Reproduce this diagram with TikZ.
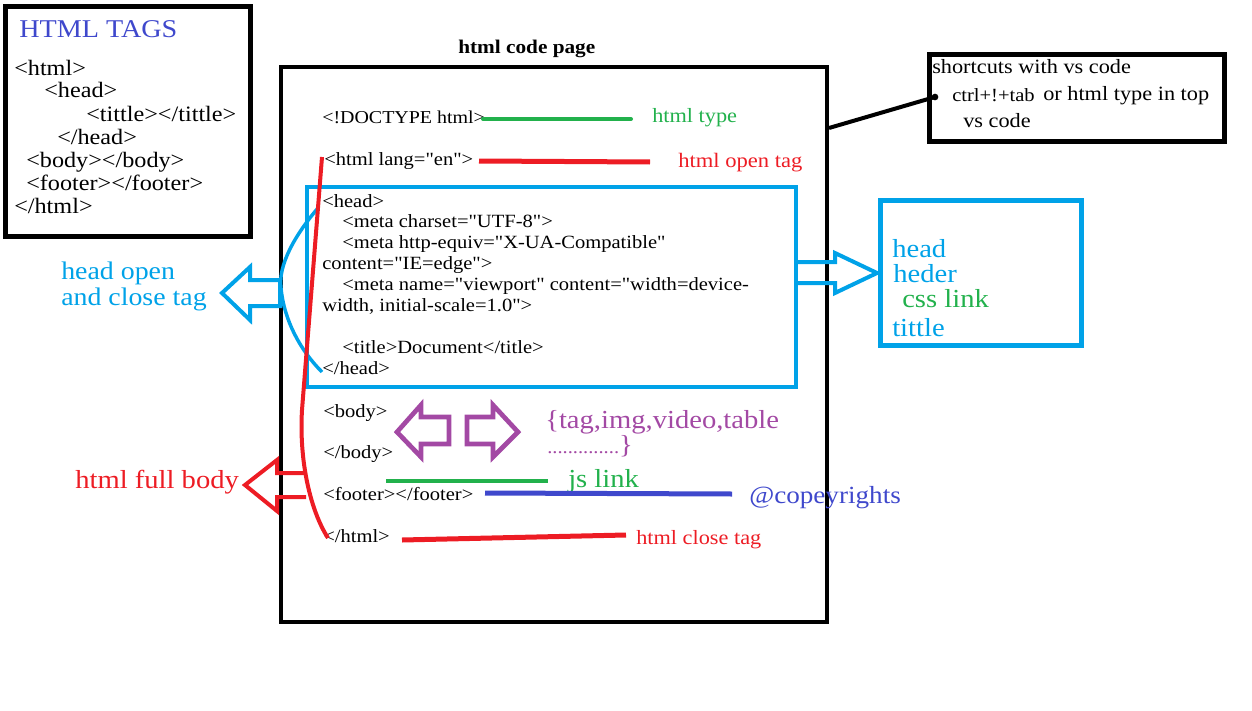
\documentclass[tikz,border=0pt]{standalone}
\usepackage{fontspec}
\setmainfont{Liberation Serif}[FakeStretch=1.1, Ligatures=TeXOff]
\usepackage{xcolor}
\definecolor{pred}{RGB}{237,28,36}
\definecolor{pgreen}{RGB}{34,177,76}
\definecolor{pblue}{RGB}{0,162,232}
\definecolor{pindigo}{RGB}{63,72,204}
\definecolor{ppurple}{RGB}{163,73,164}
\tikzset{
  txt/.style={anchor=base west, inner sep=0pt},
  code/.style={txt, font=\fontsize{14}{16}\selectfont},
  tagline/.style={txt, font=\fontsize{16.5}{18}\selectfont},
  smallnote/.style={txt, font=\fontsize{15.2}{17}\selectfont},
  note/.style={txt, font=\fontsize{19.5}{21}\selectfont},
}

\begin{document}
\begin{tikzpicture}[x=0.75pt,y=-0.75pt]
      \useasboundingbox (0,0) rectangle (1252,710);
      % tag list box
      \draw[line width=3.75pt] (5,6.5) rectangle (250,236);
      \node[note, pindigo, font=\fontsize{19.2}{21}\selectfont] (tagtitle) at (19,38) {HTML TAGS};
      \node[tagline] (t1) at (14,75) {<html>};
      \node[tagline] (t2) at (44,98) {<head>};
      \node[tagline] (t3) at (86,121) {<tittle></tittle>};
      \node[tagline] (t4) at (57,144) {</head>};
      \node[tagline] (t5) at (26,167) {<body></body>};
      \node[tagline] (t6) at (26,190) {<footer></footer>};
      \node[tagline] (t7) at (14,213) {</html>};
      % code page
      \node[txt, font=\bfseries\fontsize{14.5}{16}\selectfont] (pagetitle) at (458,54) {html code page};
      \draw[line width=3.4pt] (281,67) rectangle (827,622);
      \node[code, font=\fontsize{13.6}{16}\selectfont] (doctype) at (322,123) {<!DOCTYPE html>};
      \node[code] (htmlopen) at (324,165) {<html lang="en">};
      \node[code] (h1) at (322,207) {<head>};
      \node[code] (h2) at (342,227) {<meta charset="UTF-8">};
      \node[code] (h3) at (342,248) {<meta http-equiv="X-UA-Compatible"};
      \node[code] (h4) at (322,269) {content="IE=edge">};
      \node[code] (h5) at (342,290) {<meta name="viewport" content="width=device-};
      \node[code] (h6) at (322,311) {width, initial-scale=1.0">};
      \node[code] (h7) at (342,353) {<title>Document</title>};
      \node[code] (h8) at (322,374) {</head>};
      \node[code] (bodyopen) at (323,417) {<body>};
      \node[code] (bodyclose) at (323,458) {</body>};
      \node[code] (footer) at (323,500) {<footer></footer>};
      \node[code] (htmlclose) at (323,542) {</html>};
      % labels
      \node[smallnote, pgreen] (typelabel) at (652,122) {html type};
      \node[smallnote, pred, font=\fontsize{15.4}{17}\selectfont] (openlabel) at (678,167) {html open tag};
      \node[smallnote, pred] (closelabel) at (636,544) {html close tag};
      \node[note, pblue, font=\fontsize{19}{21}\selectfont] (headlabel) at (61,279) {head open};
      \node[note, pblue, font=\fontsize{19}{21}\selectfont] (headlabelb) at (61,305) {and close tag};
      \node[note, ppurple] (bodylabel) at (545,428) {\{tag,img,video,table};
      \node[note, ppurple] (bodylabelb) at (547,453) {{\fontsize{14}{16}\selectfont ..............}\}};
      \node[note, pgreen] (jslabel) at (568,487) {js link};
      \node[note, pindigo, font=\fontsize{18.5}{20}\selectfont] (copylabel) at (749,503) {@copeyrights};
      \node[note, pred] (fulllabel) at (75,488) {html full body};
      % head box and what it holds
      \draw[pblue, line width=3pt] (307,187) rectangle (796,387);
      \draw[pblue, line width=3.75pt] (880.5,200.5) rectangle (1081.5,345.5);
      \node[note, pblue] (r1) at (892,257) {head};
      \node[note, pblue] (r2) at (893,282) {heder};
      \node[note, pgreen] (r3) at (902,307) {css link};
      \node[note, pblue] (r4) at (892,336) {tittle};
      % shortcuts
      \draw[line width=3.75pt] (929,54.5) rectangle (1224.5,141.5);
      \node[smallnote] (s1) at (932,74) {shortcuts with vs code};
      \node[smallnote, font=\fontsize{14}{16}\selectfont] (s2) at (952,101) {ctrl+!+tab};
      \node[smallnote] (s3) at (1043,100) {or html type in top};
      \node[smallnote] (s4) at (963,127) {vs code};
      \coordinate (sa) at (829,128);
      \coordinate (sb) at (935,97);
      \draw[line width=3pt] (sa) -- (sb);
      \fill (sb) circle (2.5pt);
      % lines to the labels
      \coordinate (ga) at (483,119);
      \coordinate (gb) at (631,119);
      \draw[pgreen, line width=3pt, line cap=round] (ga) -- (gb);
      \coordinate (ra) at (479,161);
      \coordinate (rb) at (650,162);
      \draw[pred, line width=3.75pt] (ra) -- (rb);
      \coordinate (ja) at (386,481);
      \coordinate (jb) at (548,481);
      \draw[pgreen, line width=3pt] (ja) -- (jb);
      \coordinate (fa) at (485,493);
      \coordinate (fb) at (732,494);
      \draw[pindigo, line width=3.75pt] (fa) -- (fb);
      \coordinate (ca) at (402,540);
      \coordinate (cb) at (626,535);
      \draw[pred, line width=3.75pt] (ca) -- (cb);
      % brackets and block arrows
      \coordinate (btop) at (318,208);
      \coordinate (bmid) at (281,288);
      \coordinate (bbot) at (322,372);
      \draw[pblue, line width=2.6pt] (btop) .. controls (295,235) and (278,265) .. (bmid) .. controls (284,320) and (300,350) .. (bbot);
      \draw[pblue, line width=3pt] (280,280) -- (250,280) -- (250,267) -- (222,293) -- (250,320) -- (250,306) -- (280,306) -- cycle;
      \draw[pblue, line width=3pt] (797,262) -- (835,262) -- (835,253) -- (877,273) -- (835,293) -- (835,283) -- (797,283);
      \draw[ppurple, line width=3.5pt] (449,417) -- (421,417) -- (421,405) -- (397,432) -- (421,457) -- (421,444) -- (449,444) -- cycle;
      \draw[ppurple, line width=3.5pt] (467,417) -- (493,417) -- (493,405) -- (518,432) -- (493,457) -- (493,444) -- (467,444) -- cycle;
      \coordinate (htop) at (322,157);
      \coordinate (hbend) at (302,410);
      \coordinate (hbot) at (328,538);
      \draw[pred, line width=3pt] (htop) -- (hbend) .. controls (299,460) and (310,510) .. (hbot);
      \draw[pred, line width=3pt] (306,473) -- (277,473) -- (277,460) -- (245,485) -- (277,511) -- (277,497) -- (306,497);
    \end{tikzpicture}
\end{document}
